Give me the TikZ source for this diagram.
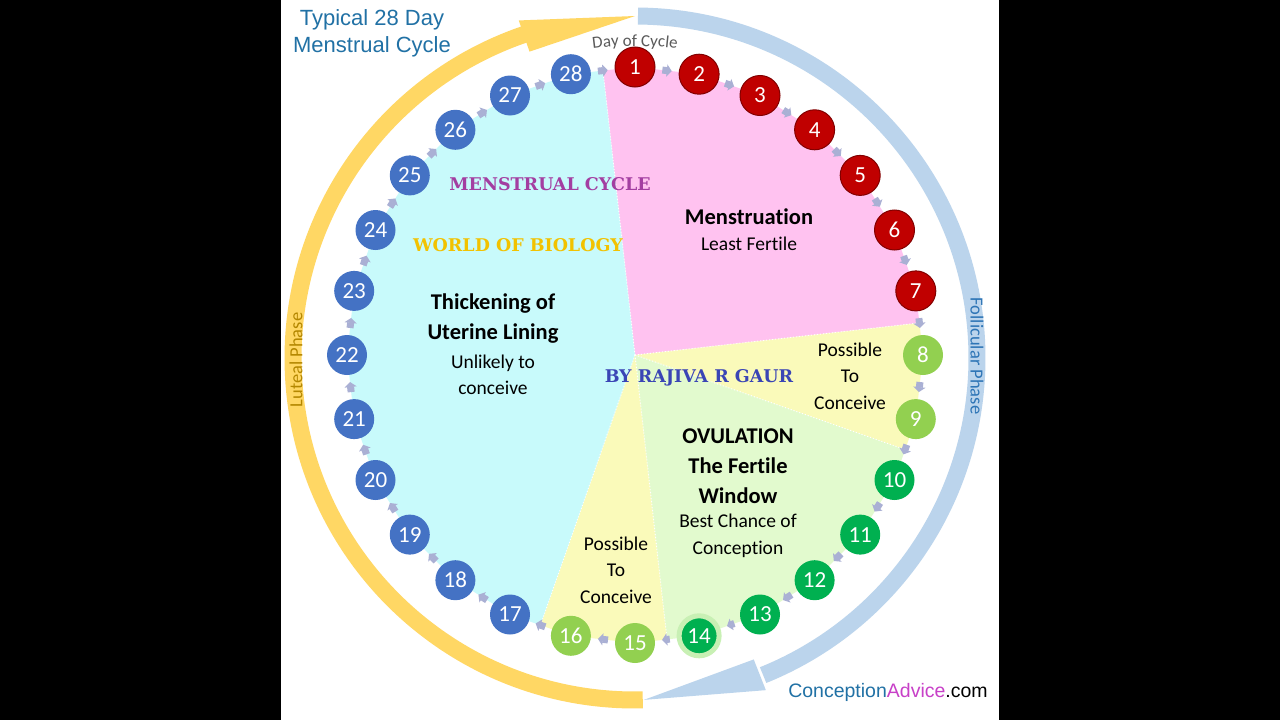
\documentclass[tikz,border=0pt]{standalone}
\usepackage{fontspec}
\setmainfont{Carlito}[Ligatures=NoCommon]
\newfontfamily\arialfont{Liberation Sans}
\newfontfamily\fancyfont{DejaVu Serif}
\usetikzlibrary{arrows.meta,backgrounds,calc,decorations.text}

\definecolor{pinkzone}{RGB}{255,194,240}
\definecolor{cyanzone}{RGB}{200,250,251}
\definecolor{yellowzone}{RGB}{250,250,186}
\definecolor{greenzone}{RGB}{226,250,206}
\definecolor{dayred}{RGB}{192,0,0}
\definecolor{dayredline}{RGB}{130,0,0}
\definecolor{daylight}{RGB}{146,208,80}
\definecolor{daygreen}{RGB}{0,176,80}
\definecolor{dayblue}{RGB}{68,114,196}
\definecolor{halogreen}{RGB}{200,240,180}
\definecolor{arrowgray}{RGB}{170,176,212}
\definecolor{lutealband}{RGB}{255,215,100}
\definecolor{lutealtext}{RGB}{180,135,0}
\definecolor{follband}{RGB}{187,212,236}
\definecolor{folltext}{RGB}{46,117,182}
\definecolor{titleblue}{RGB}{33,113,165}
\definecolor{cyclegray}{RGB}{90,90,90}
\definecolor{markpurple}{RGB}{163,62,161}
\definecolor{markgold}{RGB}{242,194,0}
\definecolor{markblue}{RGB}{58,69,181}
\definecolor{advicepink}{RGB}{200,64,200}

\begin{document}
\begin{tikzpicture}[x=10pt,y=10pt]
        \tikzstyle{every node}+=[inner sep=0pt]
        \tikzstyle{day}=[circle, minimum size=40pt, text=white, font=\fontsize{23}{23}\selectfont]
        \tikzstyle{redday}=[day, fill=dayred, draw=dayredline, line width=1pt]
        \tikzstyle{lightday}=[day, fill=daylight]
        \tikzstyle{greenday}=[day, fill=daygreen]
        \tikzstyle{blueday}=[day, fill=dayblue]
        \tikzstyle{dayarrow}=[draw=arrowgray, line width=7pt, shorten <=7pt, shorten >=7pt, -{Triangle[length=5pt,width=12pt]}]
        \tikzstyle{zonetitle}=[align=center, font=\bfseries\fontsize{22.5}{30}\selectfont]
        \tikzstyle{zonetext}=[align=center, font=\fontsize{19.5}{26.5}\selectfont]
        \tikzstyle{watermark}=[font=\fancyfont\bfseries\fontsize{17.5}{17.5}\selectfont]
        \tikzstyle{zoneline}=[white, line width=1pt, dotted]
        \useasboundingbox (0,0) rectangle (128,-72);
        \coordinate (c) at (63.5,-35.5);
        \coordinate (bc) at (63.5,-35.8);
        % phase bands
        \draw [lutealband, line width=17pt] ([shift={(bc)}]271.3:34.2) arc[start angle=271.3, end angle=108.5, radius=34.2];
        \fill [lutealband] ([shift={(bc)}]109:35.7) -- ([shift={(bc)}]90:34.2) -- ([shift={(bc)}]109:32.4) -- cycle;
        \draw [follband, line width=17pt] ([shift={(bc)}]89.5:34.2) arc[start angle=89.5, end angle=-68, radius=34.2];
        \fill [follband] ([shift={(bc)}]-68.5:32.4) -- ([shift={(bc)}]-88.5:34.2) -- ([shift={(bc)}]-68.5:35.7) -- cycle;
        \draw (29.6,-36.0) node[rotate=90, text=lutealtext, font=\fontsize{18.5}{18.5}\selectfont] (luteal) {Luteal Phase};
        \draw (97.7,-35.6) node[rotate=-90, text=folltext, font=\fontsize{18.5}{18.5}\selectfont] (follicular) {Follicular Phase};
        \path [decorate, decoration={text along path, text align=center, text color=cyclegray,
            text={|\fontsize{17}{17}\selectfont|Day of Cycle}}] ([shift={(c)}]100:30.9) arc[start angle=100, end angle=80, radius=30.9];
        % day circles
        \draw (63.50,-6.70) node[redday] (d1) {1};
        \draw (69.91,-7.42) node[redday] (d2) {2};
        \draw (76.00,-9.55) node[redday] (d3) {3};
        \draw (81.46,-12.98) node[redday] (d4) {4};
        \draw (86.02,-17.54) node[redday] (d5) {5};
        \draw (89.45,-23.00) node[redday] (d6) {6};
        \draw (91.58,-29.09) node[redday] (d7) {7};
        \draw (92.30,-35.50) node[lightday] (d8) {8};
        \draw (91.58,-41.91) node[lightday] (d9) {9};
        \draw (89.45,-48.00) node[greenday] (d10) {10};
        \draw (86.02,-53.46) node[greenday] (d11) {11};
        \draw (81.46,-58.02) node[greenday] (d12) {12};
        \draw (76.00,-61.45) node[greenday] (d13) {13};
        \draw (69.91,-63.58) node[greenday, draw=halogreen, line width=5pt] (d14) {14};
        \draw (63.50,-64.30) node[lightday] (d15) {15};
        \draw (57.09,-63.58) node[lightday] (d16) {16};
        \draw (51.00,-61.45) node[blueday] (d17) {17};
        \draw (45.54,-58.02) node[blueday] (d18) {18};
        \draw (40.98,-53.46) node[blueday] (d19) {19};
        \draw (37.55,-48.00) node[blueday] (d20) {20};
        \draw (35.42,-41.91) node[blueday] (d21) {21};
        \draw (34.70,-35.50) node[blueday] (d22) {22};
        \draw (35.42,-29.09) node[blueday] (d23) {23};
        \draw (37.55,-23.00) node[blueday] (d24) {24};
        \draw (40.98,-17.54) node[blueday] (d25) {25};
        \draw (45.54,-12.98) node[blueday] (d26) {26};
        \draw (51.00,-9.55) node[blueday] (d27) {27};
        \draw (57.09,-7.42) node[blueday] (d28) {28};
        \draw [dayarrow] (d1) -- (d2);
        \draw [dayarrow] (d2) -- (d3);
        \draw [dayarrow] (d3) -- (d4);
        \draw [dayarrow] (d4) -- (d5);
        \draw [dayarrow] (d5) -- (d6);
        \draw [dayarrow] (d6) -- (d7);
        \draw [dayarrow] (d7) -- (d8);
        \draw [dayarrow] (d8) -- (d9);
        \draw [dayarrow] (d9) -- (d10);
        \draw [dayarrow] (d10) -- (d11);
        \draw [dayarrow] (d11) -- (d12);
        \draw [dayarrow] (d12) -- (d13);
        \draw [dayarrow] (d13) -- (d14);
        \draw [dayarrow] (d14) -- (d15);
        \draw [dayarrow] (d15) -- (d16);
        \draw [dayarrow] (d16) -- (d17);
        \draw [dayarrow] (d17) -- (d18);
        \draw [dayarrow] (d18) -- (d19);
        \draw [dayarrow] (d19) -- (d20);
        \draw [dayarrow] (d20) -- (d21);
        \draw [dayarrow] (d21) -- (d22);
        \draw [dayarrow] (d22) -- (d23);
        \draw [dayarrow] (d23) -- (d24);
        \draw [dayarrow] (d24) -- (d25);
        \draw [dayarrow] (d25) -- (d26);
        \draw [dayarrow] (d26) -- (d27);
        \draw [dayarrow] (d27) -- (d28);
        \draw [dayarrow] (d28) -- (d1);
        % zone texts
        \draw (74.9,-21.7) node[zonetitle] (menstitle) {Menstruation};
        \draw (74.9,-24.4) node[zonetext] (menstext) {Least Fertile};
        \draw (49.3,-31.9) node[zonetitle] (thicktitle) {Thickening of\\Uterine Lining};
        \draw (49.3,-37.5) node[zonetext] (thicktext) {Unlikely to\\conceive};
        \draw (85.0,-37.6) node[zonetext] (possupper) {Possible\\To\\Conceive};
        \draw (73.8,-46.6) node[zonetitle] (ovultitle) {OVULATION\\The Fertile\\Window};
        \draw (73.8,-53.6) node[zonetext] (ovultext) {Best Chance of\\Conception};
        \draw (61.6,-57.0) node[zonetext] (posslower) {Possible\\To\\Conceive};
        \draw (55.0,-18.4) node[watermark, text=markpurple] (markcycle) {MENSTRUAL CYCLE};
        \draw (51.8,-24.5) node[watermark, text=markgold] (markworld) {WORLD OF BIOLOGY};
        \draw (69.9,-37.8) node[watermark, text=markblue] (markby) {BY RAJIVA R GAUR};
        \draw (37.2,-3.35) node[align=center, text=titleblue, font=\arialfont\fontsize{22}{27}\selectfont] (title) {Typical 28 Day\\Menstrual Cycle};
        \draw (88.8,-69.2) node[font=\arialfont\fontsize{19.5}{19.5}\selectfont] (site) {\textcolor{titleblue}{Conception}\textcolor{advicepink}{Advice}.com};
        \begin{pgfonlayer}{background}
        \fill [black] (0,0) rectangle (128,-72);
        \fill [white] (28.1,0) rectangle (99.9,-72);
        \coordinate (m1) at ($(d28)!0.5!(d1)$);
        \coordinate (m2) at ($(d7)!0.5!(d8)$);
        \coordinate (m3) at ($(d9)!0.5!(d10)$);
        \coordinate (m4) at ($(d14)!0.5!(d15)$);
        \coordinate (m5) at ($(d16)!0.5!(d17)$);
        \fill [pinkzone] (c) -- (m1) -- (d1.center) -- (d2.center) -- (d3.center) -- (d4.center) -- (d5.center) -- (d6.center) -- (d7.center) -- (m2) -- cycle;
        \fill [yellowzone] (c) -- (m2) -- (d8.center) -- (d9.center) -- (m3) -- cycle;
        \fill [greenzone] (c) -- (m3) -- (d10.center) -- (d11.center) -- (d12.center) -- (d13.center) -- (d14.center) -- (m4) -- cycle;
        \fill [yellowzone] (c) -- (m4) -- (d15.center) -- (d16.center) -- (m5) -- cycle;
        \fill [cyanzone] (c) -- (m5) -- (d17.center) -- (d18.center) -- (d19.center) -- (d20.center) -- (d21.center) -- (d22.center) -- (d23.center) -- (d24.center) -- (d25.center) -- (d26.center) -- (d27.center) -- (d28.center) -- (m1) -- cycle;
        \draw [zoneline] (c) -- (m1);
        \draw [zoneline] (c) -- (m2);
        \draw [zoneline] (c) -- (m3);
        \draw [zoneline] (c) -- (m4);
        \draw [zoneline] (c) -- (m5);
        \end{pgfonlayer}
\end{tikzpicture}
\end{document}
